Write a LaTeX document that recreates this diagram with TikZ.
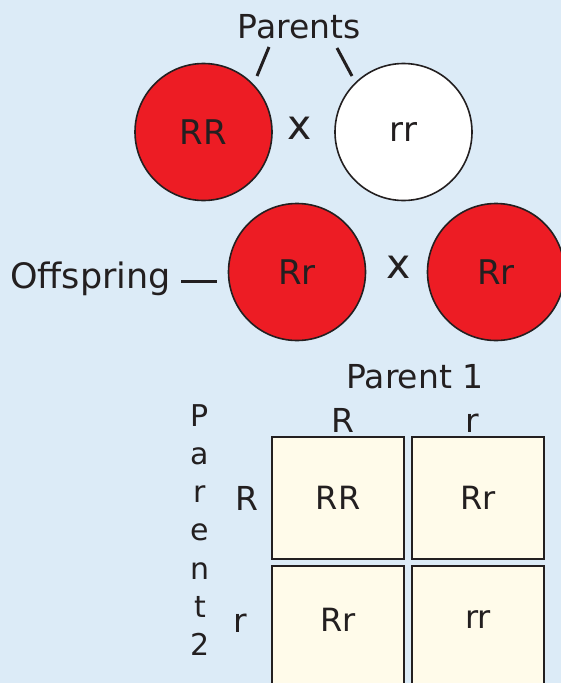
\documentclass[tikz,border=0pt]{standalone}
\usepackage{fontspec}
\setmainfont{DejaVu Sans}
\definecolor{bgblue}{HTML}{DCEBF7}
\definecolor{redfill}{HTML}{ED1C24}
\definecolor{cream}{HTML}{FFFBEA}
\definecolor{ink}{HTML}{231F20}
\begin{document}
\begin{tikzpicture}[x=1pt,y=-1pt,
  txt/.style={text=ink,inner sep=0pt,font=\fontsize{33}{40}\selectfont},
  ball/.style={circle,draw=ink,line width=1.6pt,minimum size=137pt,inner sep=0pt,text=ink,font=\fontsize{34}{40}\selectfont},
  cell/.style={draw=ink,line width=1.6pt,fill=cream,minimum width=132pt,minimum height=122pt,inner sep=0pt},
  celltxt/.style={text=ink,inner sep=0pt,font=\fontsize{32}{40}\selectfont},
  times/.style={text=ink,inner sep=0pt,font=\fontsize{41}{44}\selectfont},
  tick/.style={draw=ink,line width=3pt}]
\fill[bgblue] (0,0) rectangle (561,683);
\useasboundingbox (0,0) rectangle (561,683);
% parents
\node[txt] (parents) at (299,27) {Parents};
\node[ball,fill=redfill] (RR) at (203.5,132) {RR};
\node[ball,fill=white] (rr) at (403.5,132) {rr};
\node[times] (x1) at (300,128) {x};
\coordinate (pl1) at (269,47); \coordinate (pl2) at (257,76);
\coordinate (pr1) at (337,48); \coordinate (pr2) at (352,76);
\draw[tick] (pl1) -- (pl2);
\draw[tick] (pr1) -- (pr2);
% offspring
\node[txt,anchor=base west,font=\fontsize{35}{40}\selectfont] (off) at (10,288) {Offspring};
\coordinate (d1) at (181,281); \coordinate (d2) at (217,281);
\draw[tick] (d1) -- (d2);
\node[ball,fill=redfill] (Rr1) at (297,272) {Rr};
\node[ball,fill=redfill] (Rr2) at (496,272) {Rr};
\node[times] (x2) at (399,267) {x};
% punnett
\node[txt,anchor=base] (p1) at (415,388) {Parent 1};
\node[txt,anchor=base] (cR) at (343,432) {R};
\node[txt,anchor=base] (cr) at (472,432) {r};
\node[cell] (c11) at (338,498) {};
\node[cell] (c12) at (478,498) {};
\node[cell] (c21) at (338,627) {};
\node[cell] (c22) at (478,627) {};
\node[celltxt] (t11) at (c11.center) {RR};
\node[celltxt] (t12) at (c12.center) {Rr};
\node[celltxt] (t21) at (338,620) {Rr};
\node[celltxt] (t22) at (478,620) {rr};
\node[txt,anchor=base] (rR) at (247,510) {R};
\node[txt,anchor=base] (rr2) at (240,632) {r};
\node[txt,anchor=north,align=center,font=\fontsize{30}{38.3}\selectfont] (p2) at (200,404) {P\\a\\r\\e\\n\\t\\2};
\end{tikzpicture}
\end{document}
